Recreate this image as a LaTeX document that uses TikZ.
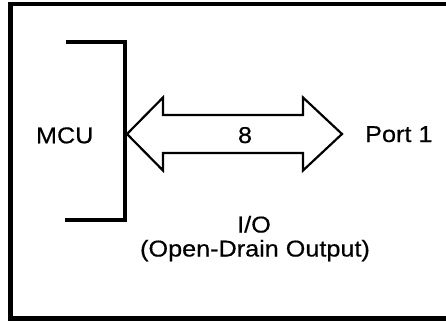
\documentclass[tikz,border=0pt]{standalone}
\usepackage{fontspec}
\setmainfont{Liberation Sans}[FakeStretch=1.1, FakeBold=0.5]
\usetikzlibrary{positioning}

\tikzset{
  lbl/.style={font=\fontsize{23}{25}\selectfont, inner sep=0pt},
  frame/.style={line width=4.5bp},
  brack/.style={line width=4bp},
  busline/.style={line width=2.2bp, line join=miter},
}

\begin{document}
\begin{tikzpicture}[x=1bp,y=1bp]
    \clip (0,0) rectangle (446,320);
    \draw[frame] (470,315.8) -- (10.5,315.8) -- (10.5,1.5) -- (470,1.5);

    \draw[brack] (65.7,278.3) -- (125,278.3) -- (125,100) -- (65,100);
    \node[lbl, anchor=base] (mcu) at (64.7,176.7) {MCU};

    \coordinate (busL) at (127,186);
    \coordinate (busR) at (342,186);
    \draw[busline] (busL) -- ++(36,36.5) -- ++(0,-17.5) -- ++(140,0) -- ++(0,17.5)
      -- (busR) -- ++(-39,-36.5) -- ++(0,17.5) -- ++(-140,0) -- ++(0,-17.5) -- cycle;
    \node[lbl, anchor=base] (width) at (245,177) {8};

    \node[lbl, anchor=base west] (port) at (365,178) {Port 1};

    \node[lbl, anchor=base] (io) at (254,87.5) {I/O};
    \node[lbl, anchor=base] (iomode) at (255,63.5) {(Open-Drain Output)};
\end{tikzpicture}
\end{document}
